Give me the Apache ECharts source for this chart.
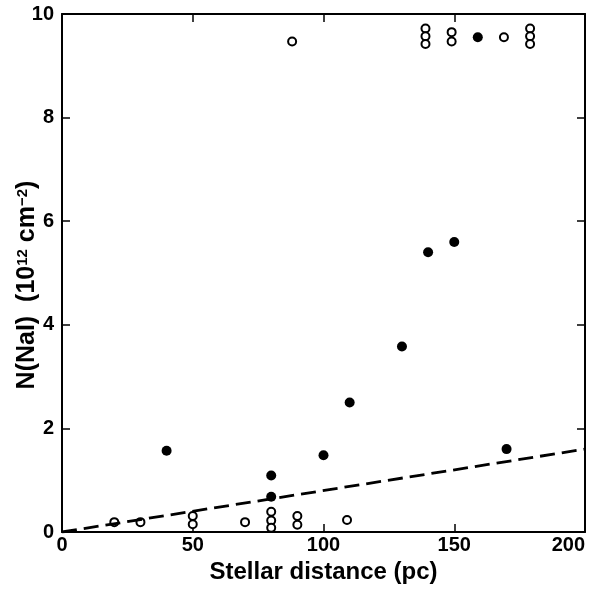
<!DOCTYPE html>
<html>
<head>
<meta charset="utf-8">
<script src="https://cdn.jsdelivr.net/npm/echarts@6/dist/echarts.min.js"></script>
<style>
html,body{margin:0;padding:0;background:#fff;}
#c{width:592px;height:589px;}
</style>
</head>
<body>
<div id="c"></div>
<script>
// Detected stars (filled circles)
const filledX = [40, 80, 80, 100, 110, 130, 140, 150, 159, 170];
const filledY = [1.57, 1.09, 0.68, 1.48, 2.5, 3.58, 5.4, 5.6, 9.55, 1.6];
// Upper limits / non-detections (open circles)
const openX = [20, 30, 50, 50, 70, 80, 80, 80, 90, 90, 109, 88, 139, 139, 139, 149, 149, 169, 179, 179, 179];
const openY = [0.19, 0.19, 0.31, 0.15, 0.19, 0.39, 0.22, 0.08, 0.31, 0.14, 0.23, 9.47, 9.72, 9.57, 9.42, 9.65, 9.47, 9.55, 9.72, 9.57, 9.42];
// Dashed reference line
const lineX = [0, 200];
const lineY = [0, 1.6];
const xTicks = [0, 50, 100, 150, 200];
const yTicks = [0, 2, 4, 6, 8, 10];

const font = '"Liberation Sans", Arial, sans-serif';
const chart = echarts.init(document.getElementById('c'));
const zip = (a, b) => a.map((v, i) => [v, b[i]]);

const axisCommon = {
  axisLine: { show: true, onZero: false, lineStyle: { color: '#000', width: 2 } },
  axisTick: { show: true, inside: true, length: 8, lineStyle: { color: '#000', width: 1.5 } },
  splitLine: { show: false }
};

chart.setOption({
  animation: false,
  backgroundColor: '#fff',
  grid: { left: 62, right: 7, top: 14, bottom: 57, containLabel: false, outerBoundsMode: 'none' },
  xAxis: [
    Object.assign({
      type: 'value', min: 0, max: 200, interval: 50, position: 'bottom',
      name: 'Stellar distance (pc)', nameLocation: 'middle', nameGap: 24,
      nameTextStyle: { fontFamily: font, fontSize: 24, fontWeight: 'bold', color: '#000' },
      axisLabel: { fontFamily: font, fontSize: 20, fontWeight: 'bold', color: '#000', margin: 3,
        alignMaxLabel: 'right',
        formatter: v => xTicks.includes(v) ? String(v) : '' }
    }, axisCommon),
    Object.assign({
      type: 'value', min: 0, max: 200, interval: 50, position: 'top',
      axisLabel: { show: false }
    }, axisCommon)
  ],
  yAxis: [
    Object.assign({
      type: 'value', min: 0, max: 10, interval: 2, position: 'left',
      name: '{a|N(NaI)  (10}{s|12}{a| cm}{s|−2}{a|)}', nameLocation: 'middle', nameGap: 22,
      nameMoveOverlap: false,
      nameTextStyle: {
        padding: [0, 24, 0, 0],
        rich: {
          a: { fontFamily: font, fontSize: 25, fontWeight: 'bold', color: '#000' },
          s: { fontFamily: font, fontSize: 15, fontWeight: 'bold', color: '#000', verticalAlign: 'top', padding: [0, 0, 10, 0] }
        }
      },
      axisLabel: { fontFamily: font, fontSize: 20, fontWeight: 'bold', color: '#000', margin: 8,
        formatter: v => yTicks.includes(v) ? String(v) : '' }
    }, axisCommon),
    Object.assign({
      type: 'value', min: 0, max: 10, interval: 2, position: 'right',
      axisLabel: { show: false }
    }, axisCommon)
  ],
  series: [
    {
      type: 'line', data: zip(lineX, lineY), symbol: 'none', silent: true,
      lineStyle: { color: '#000', width: 2.8, type: [15, 7] }
    },
    {
      type: 'scatter', data: zip(openX, openY), symbol: 'circle', symbolSize: 8,
      itemStyle: { color: '#fff', borderColor: '#000', borderWidth: 2, opacity: 1 }
    },
    {
      type: 'scatter', data: zip(filledX, filledY), symbol: 'circle', symbolSize: 10,
      itemStyle: { color: '#000', opacity: 1 }
    }
  ]
});
</script>
</body>
</html>
